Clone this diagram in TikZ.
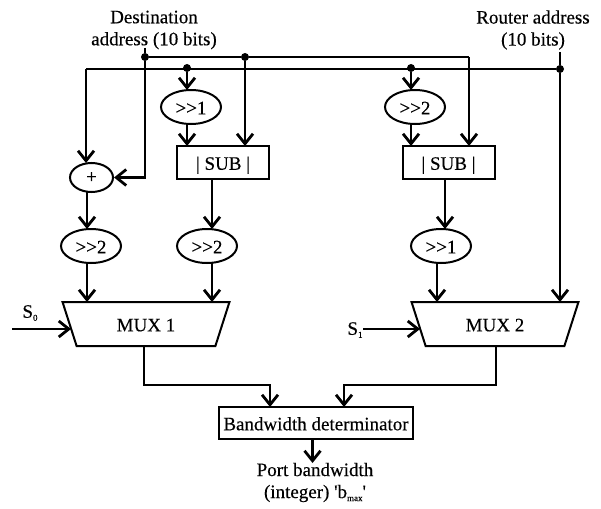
\documentclass[tikz,border=0pt]{standalone}
\usepackage{fontspec}
\setmainfont{Liberation Serif}[FakeBold=0.35]
\usetikzlibrary{arrows.meta,shapes.geometric,calc}
\tikzset{
  wire/.style={line width=2.3pt,line join=miter},
  arr/.style={wire,-{Straight Barb[length=10pt,width=16pt,line width=2.8pt]}},
  dotn/.style={circle,fill=black,inner sep=0pt,minimum size=8pt},
  lowered/.style={text height=15pt,text depth=0.4pt},
  shiftn/.style={ellipse,draw,line width=2pt,minimum width=60pt,minimum height=34pt,inner sep=0pt,lowered},
  plusn/.style={ellipse,draw,line width=2pt,minimum width=43pt,minimum height=29pt,inner sep=0pt},
  subbox/.style={rectangle,draw,line width=2pt,minimum width=92pt,minimum height=33pt,inner sep=0pt,lowered},
  muxn/.style={trapezium,draw,line width=2pt,shape border rotate=180,trapezium stretches=true,trapezium angle=68.9,minimum width=168pt,minimum height=44pt,inner sep=0pt,lowered},
  lab/.style={inner sep=0pt,align=center},
}
\newcommand{\tinysub}[1]{\raisebox{-3pt}{\fontsize{9}{9}\selectfont #1}}
\begin{document}
\begin{tikzpicture}[x=1pt,y=-1pt,font=\fontsize{19}{22}\selectfont]
\useasboundingbox (0,0) rectangle (601,508);
% inputs
\node[lab] (dest) at (154,30) {Destination\\address (10 bits)};
\node[lab] (rout) at (533,30) {Router address\\(10 bits)};
% blocks
\node[plusn] (plus) at (91.5,177.5) {+};
\node[shiftn] (sa) at (191,107) {>{}>1};
\node[shiftn] (sb) at (415,107) {>{}>2};
\node[subbox] (suba) at (223,162.5) {| SUB |};
\node[subbox] (subb) at (448.5,162.5) {| SUB |};
\node[shiftn] (sc) at (91,246) {>{}>2};
\node[shiftn] (sd) at (207,246) {>{}>2};
\node[shiftn] (se) at (441,246) {>{}>1};
\node[muxn] (mxa) at (146,324) {MUX 1};
\node[muxn] (mxb) at (495,324) {MUX 2};
\node[rectangle,draw,line width=2pt,minimum width=194pt,minimum height=32pt,inner sep=0pt,lowered] (bw) at (316,423) {Bandwidth determinator};
\node[lab] (port) at (315,482.5) {Port bandwidth\\(integer) \textquotesingle b\tinysub{max}\textquotesingle};
\node[lab] (sz) at (30,313) {S\tinysub{0}};
\node[lab] (so) at (355,330) {S\tinysub{1}};
% junctions
\node[dotn] (d1) at (145,57) {};
\node[dotn] (d2) at (245,57) {};
\node[dotn] (d3) at (187,68) {};
\node[dotn] (d4) at (411,68) {};
\node[dotn] (d5) at (560,69) {};
% free ends
\coordinate (dtop) at (145,48);
\coordinate (rtop) at (560,52);
\coordinate (szs) at (12,329);
\coordinate (sze) at (71,329);
\coordinate (sos) at (363,329);
\coordinate (soe) at (420,329);
\coordinate (l2) at (86,69);
\coordinate (t2) at (469,57);
% buses
\draw[wire] (dtop) -- (d1);
\draw[wire] (d1) -- (d2) -- (t2);
\draw[wire] (l2) -- (d5);
\draw[wire] (rtop) -- (d5);
% arrows into first stage
\draw[arr] (l2) -- (86,163);
\draw[arr] (d1) |- (plus.east);
\draw[arr] (d3) -- (187,90);
\draw[arr] (d4) -- (411,90);
\draw[arr] (187,124) -- (187,146);
\draw[arr] (d2) -- (245,146);
\draw[arr] (411,124) -- (411,146);
\draw[arr] (t2) -- (469,146);
% second stage
\draw[arr] (87,192) -- (87,229);
\draw[arr] (212,179) -- (212,229);
\draw[arr] (445,179) -- (445,229);
\draw[arr] (87,263) -- (87,302);
\draw[arr] (212,263) -- (212,302);
\draw[arr] (437,263) -- (437,302);
\draw[arr] (d5) -- (560,302);
% selects
\draw[arr] (szs) -- (sze);
\draw[arr] (sos) -- (soe);
% outputs
\draw[arr] (mxa.south) ++(-2,0) |- (270,385) -- (270,407);
\draw[arr] (mxb.south) ++(1,0) |- (344,385) -- (344,407);
\draw[arr] (312.5,439) -- (312.5,463);
\end{tikzpicture}
\end{document}
